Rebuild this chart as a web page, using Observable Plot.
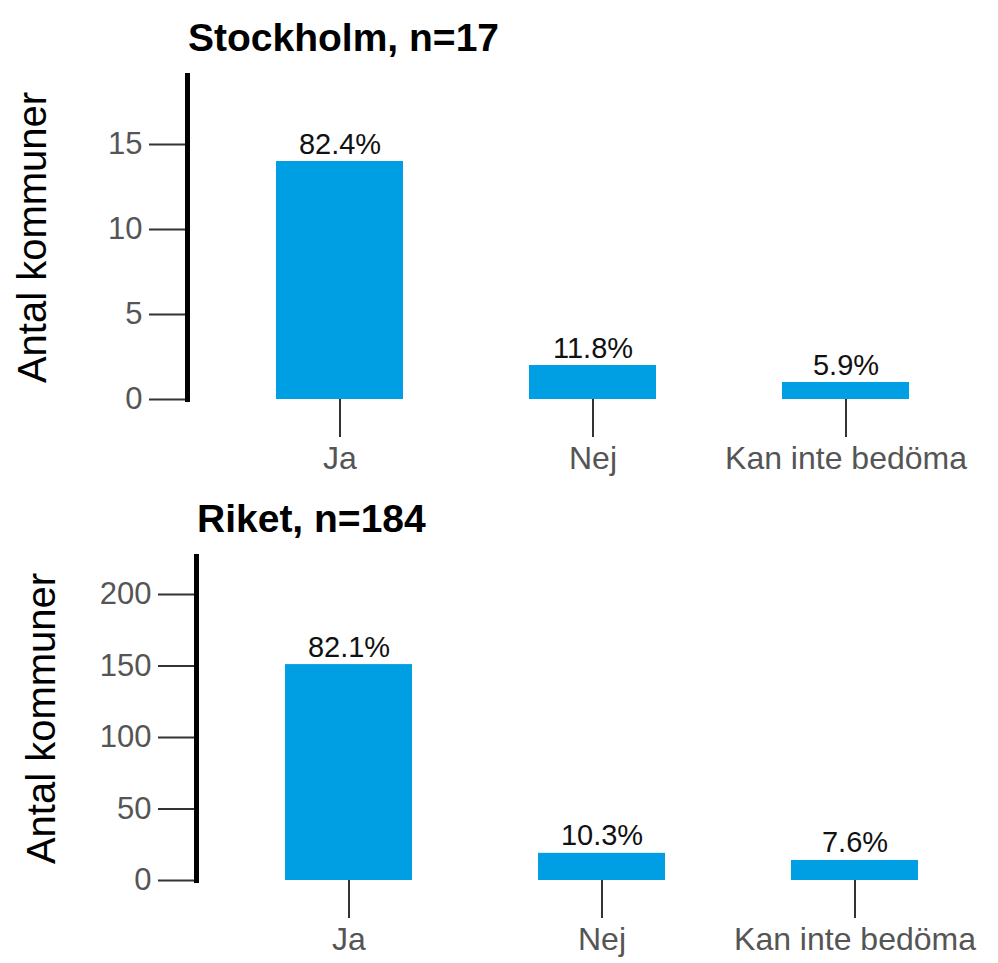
<!DOCTYPE html>
<html>
<head>
<meta charset="utf-8">
<script src="https://cdn.jsdelivr.net/npm/d3@7"></script>
<script src="https://cdn.jsdelivr.net/npm/@observablehq/plot@0.6"></script>
<style>
  html, body { margin: 0; padding: 0; background: #fff; }
  body { width: 998px; height: 963px; overflow: hidden; font-family: "Liberation Sans", Arial, sans-serif; }
  .panel { position: absolute; width: 998px; height: 481px; }
  .panel .title { position: absolute; font-weight: bold; font-size: 39px; color: #000; white-space: nowrap; line-height: 1; }
  .panel svg { position: absolute; left: 0; top: 0; }
</style>
</head>
<body>
<div id="root"></div>
<script>
// ---- data ----
const categories = ["Ja", "Nej", "Kan inte bedöma"];

const stockholmTitle = "Stockholm, n=17";
const stockholmCounts = [14, 2, 1];
const stockholmPercents = ["82.4%", "11.8%", "5.9%"];
const stockholmTicks = [0, 5, 10, 15];
const stockholmYMax = 19.06;

const riketTitle = "Riket, n=184";
const riketCounts = [151, 19, 14];
const riketPercents = ["82.1%", "10.3%", "7.6%"];
const riketTicks = [0, 50, 100, 150, 200];
const riketYMax = 226.6;

const yLabel = "Antal kommuner";
const barColor = "#009fe3";

function panel(title, counts, percents, ticks, yMax, offsetX, offsetY) {
  const data = categories.map((c, i) => ({cat: c, value: counts[i], pct: percents[i]}));
  const W = 998, H = 481, mLeft = 187, mTop = 75, mBottom = 82;
  const chart = Plot.plot({
    width: W,
    height: H,
    marginTop: mTop,
    marginBottom: mBottom,
    marginLeft: mLeft,
    marginRight: 26,
    style: {fontFamily: '"Liberation Sans", Arial, sans-serif', background: "transparent", overflow: "visible"},
    x: {domain: categories, range: [212.75, 971.75], paddingInner: 0.5, paddingOuter: 0.25, axis: null},
    y: {domain: [0, yMax], axis: null},
    marks: [
      Plot.barY(data, {x: "cat", y: "value", fill: barColor}),
      Plot.text(data, {x: "cat", y: "value", text: "pct", lineAnchor: "bottom", dy: -8, fontSize: 29, fill: "#111"}),
      Plot.axisY({ticks: ticks, anchor: "left", tickSize: 38, tickPadding: 7, fontSize: 31, stroke: "#333", fill: "#555", strokeWidth: 2, label: null}),
      Plot.axisX({anchor: "bottom", tickSize: 38, tickPadding: 9, fontSize: 32, stroke: "#333", fill: "#555", strokeWidth: 2, label: null}),
      Plot.frame({anchor: "left", stroke: "#000", strokeWidth: 5}),
      Plot.text([yLabel], {frameAnchor: "left", rotate: -90, dx: -154, fontSize: 40, fill: "#000", textAnchor: "middle", lineAnchor: "middle"})
    ]
  });
  const div = document.createElement("div");
  div.className = "panel";
  div.style.left = offsetX + "px";
  div.style.top = offsetY + "px";
  div.appendChild(chart);
  const t = document.createElement("div");
  t.className = "title";
  t.textContent = title;
  t.style.left = (mLeft + 1) + "px";
  t.style.top = "18px";
  div.appendChild(t);
  document.getElementById("root").appendChild(div);
}

panel(stockholmTitle, stockholmCounts, stockholmPercents, stockholmTicks, stockholmYMax, 0, 0);
panel(riketTitle, riketCounts, riketPercents, riketTicks, riketYMax, 9, 481);
</script>
</body>
</html>
